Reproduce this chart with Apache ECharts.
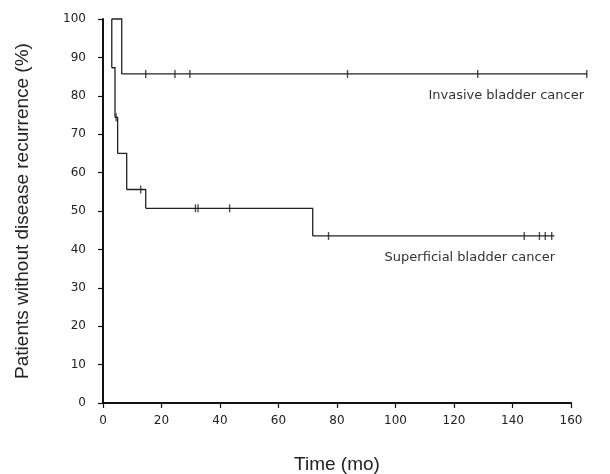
<!DOCTYPE html>
<html>
<head>
<meta charset="utf-8">
<script src="https://cdn.jsdelivr.net/npm/echarts@6/dist/echarts.min.js"></script>
<style>
  html, body { margin: 0; padding: 0; background: #fff; }
  #chart1 { width: 610px; height: 474px; }
</style>
</head>
<body>
<div id="chart1"></div>
<script>
// 生存曲线 (Kaplan-Meier) 数据
var xTicks = [0, 20, 40, 60, 80, 100, 120, 140, 160];
var yTicks = [0, 10, 20, 30, 40, 50, 60, 70, 80, 90, 100];

// 浸润性: [月, %]
var invasiveSteps = [[3, 100], [6.4, 85.7], [165.5, 85.7]];
var invasiveCensor = [[14.6, 85.7], [24.6, 85.7], [29.7, 85.7], [83.6, 85.7], [128.1, 85.7], [165.4, 85.7]];

// 浅表性
var superficialSteps = [[3, 100], [3, 87.3], [4.1, 74.4], [5, 65], [8.1, 55.6], [14.6, 50.7], [71.7, 43.5], [154.3, 43.5]];
var superficialCensor = [[4.5, 74.4], [12.9, 55.6], [31.6, 50.7], [32.5, 50.7], [43.3, 50.7], [77.1, 43.5],
    [144, 43.5], [149.2, 43.5], [151.2, 43.5], [153.4, 43.5]];

var labelInvasive = 'Invasive bladder cancer';
var labelSuperficial = 'Superficial bladder cancer';

var mychart = echarts.init(document.getElementById('chart1'));

var lineColor = '#222';

// 把阶梯点转成线段 [x0, y0, x1, y1]
function toSegments(steps) {
    var segs = [];
    for (var i = 1; i < steps.length; i++) {
        segs.push([steps[i - 1][0], steps[i - 1][1], steps[i][0], steps[i][1]]);
    }
    return segs;
}

function stepSeries(name, steps) {
    return {
        name: name,
        type: 'custom',
        clip: false,
        silent: true,
        encode: { x: [0, 2], y: [1, 3] },
        data: toSegments(steps),
        renderItem: function (params, api) {
            var p0 = api.coord([api.value(0), api.value(1)]);
            var pc = api.coord([api.value(2), api.value(1)]);
            var p1 = api.coord([api.value(2), api.value(3)]);
            return {
                type: 'polyline',
                shape: { points: [p0, pc, p1] },
                style: { stroke: lineColor, lineWidth: 1.3, fill: null }
            };
        }
    };
}

var censorStyle = {
    type: 'scatter',
    symbol: 'rect',
    symbolSize: [1.4, 8],
    itemStyle: { color: lineColor },
    clip: false,
    silent: true
};

var option = {
    animation: false,
    grid: { left: 103, right: 39, top: 19, bottom: 71, outerBoundsMode: 'none' },
    xAxis: {
        type: 'value',
        min: 0,
        max: 160,
        interval: 20,
        name: 'Time (mo)',
        nameLocation: 'middle',
        nameGap: 52,
        nameTextStyle: { fontFamily: 'Liberation Sans', fontSize: 19, color: '#222' },
        axisLine: { show: true, lineStyle: { color: '#111', width: 2 } },
        axisTick: { show: true, length: 5, lineStyle: { color: '#111', width: 1.2 } },
        axisLabel: { fontFamily: 'DejaVu Sans', fontSize: 12, color: '#222', margin: 12 },
        splitLine: { show: false }
    },
    yAxis: {
        type: 'value',
        min: 0,
        max: 100,
        interval: 10,
        name: 'Patients without disease recurrence (%)',
        nameLocation: 'middle',
        nameGap: 71,
        nameTextStyle: { fontFamily: 'Liberation Sans', fontSize: 19, color: '#222' },
        axisLine: { show: true, lineStyle: { color: '#111', width: 2 } },
        axisTick: { show: true, length: 5, lineStyle: { color: '#111', width: 1.2 } },
        axisLabel: { fontFamily: 'DejaVu Sans', fontSize: 12, color: '#222', margin: 17 },
        splitLine: { show: false }
    },
    graphic: [
        {
            type: 'text', right: 26, top: 89,
            style: { text: labelInvasive, fontFamily: 'DejaVu Sans', fontSize: 13, fill: '#333' }
        },
        {
            type: 'text', right: 55, top: 251,
            style: { text: labelSuperficial, fontFamily: 'DejaVu Sans', fontSize: 13, fill: '#333' }
        }
    ],
    series: [
        stepSeries('invasive', invasiveSteps),
        stepSeries('superficial', superficialSteps),
        Object.assign({ name: 'invasiveCensor', data: invasiveCensor }, censorStyle),
        Object.assign({ name: 'superficialCensor', data: superficialCensor }, censorStyle)
    ]
};

mychart.setOption(option);
</script>
</body>
</html>
